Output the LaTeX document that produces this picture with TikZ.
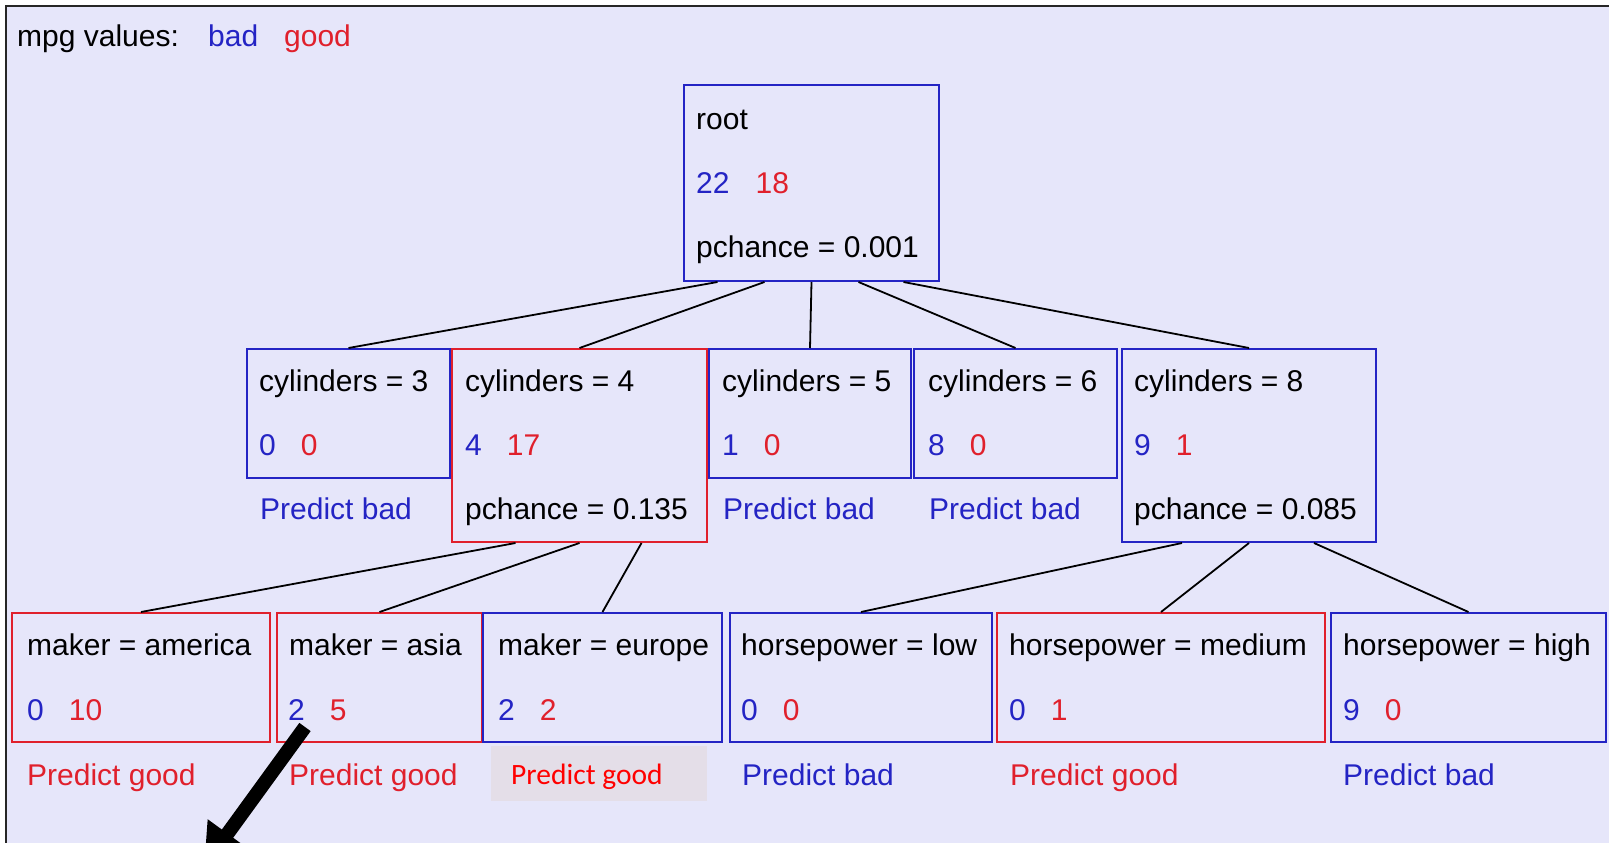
\documentclass[tikz,border=0pt]{standalone}
\usepackage{fontspec}
\setmainfont{Liberation Sans}
\newfontfamily\calib{Carlito}
\usetikzlibrary{fit,arrows.meta}
\definecolor{lav}{RGB}{230,230,250}
\definecolor{bl}{RGB}{36,36,196}
\definecolor{rd}{RGB}{224,32,44}
\definecolor{gbox}{RGB}{228,222,232}
\newcommand{\nums}[2]{\textcolor{bl}{#1}\hspace{25pt}\textcolor{rd}{#2}}
\begin{document}
\begin{tikzpicture}[x=1pt,y=-1pt,
  bbox/.style={draw=bl, line width=2pt, inner sep=0pt},
  rbox/.style={draw=rd, line width=2pt, inner sep=0pt},
  txt/.style={anchor=base west, inner sep=0pt, font=\fontsize{30}{36}\selectfont},
  conn/.style={draw=black, line width=1.8pt}]
\useasboundingbox (0,0) rectangle (1609,843);
\fill[white] (0,0) rectangle (1609,843);
\fill[lav] (6,6) rectangle (1609,843);
\draw[line width=2.5pt, black!85] (6,843) -- (6,6) -- (1609,6);

% legend
\node[txt] (legend) at (17,47) {mpg values:};
\node[txt, text=bl] (legbad) at (208,47) {bad};
\node[txt, text=rd] (leggood) at (284,47) {good};

% root
\node[bbox, fit={(684,85) (939,281)}] (root) {};
\node[txt] (roott1) at (696,129) {root};
\node[txt] (roott2) at (696,193) {\textcolor{bl}{22}\hspace{26pt}\textcolor{rd}{18}};
\node[txt] (roott3) at (696,257) {pchance = 0.001};

% level 2
\node[bbox, fit={(247,349) (450,478)}] (c3) {};
\node[txt] (c3t1) at (259,391) {cylinders = 3};
\node[txt] (c3t2) at (259,455) {\nums{0}{0}};
\node[txt, text=bl] (c3p) at (260,519) {Predict bad};

\node[rbox, fit={(452,349) (707,542)}] (c4) {};
\node[txt] (c4t1) at (465,391) {cylinders = 4};
\node[txt] (c4t2) at (465,455) {\nums{4}{17}};
\node[txt] (c4t3) at (465,519) {pchance = 0.135};

\node[bbox, fit={(709,349) (911,478)}] (c5) {};
\node[txt] (c5t1) at (722,391) {cylinders = 5};
\node[txt] (c5t2) at (722,455) {\nums{1}{0}};
\node[txt, text=bl] (c5p) at (723,519) {Predict bad};

\node[bbox, fit={(914,349) (1117,478)}] (c6) {};
\node[txt] (c6t1) at (928,391) {cylinders = 6};
\node[txt] (c6t2) at (928,455) {\nums{8}{0}};
\node[txt, text=bl] (c6p) at (929,519) {Predict bad};

\node[bbox, fit={(1122,349) (1376,542)}] (c8) {};
\node[txt] (c8t1) at (1134,391) {cylinders = 8};
\node[txt] (c8t2) at (1134,455) {\nums{9}{1}};
\node[txt] (c8t3) at (1134,519) {pchance = 0.085};

% level 3
\node[rbox, fit={(12,613) (270,742)}] (am) {};
\node[txt] (amt1) at (27,655) {maker = america};
\node[txt] (amt2) at (27,720) {\nums{0}{10}};
\node[txt, text=rd] (amp) at (27,785) {Predict good};

\node[rbox, fit={(277,613) (482,742)}] (as) {};
\node[txt] (ast1) at (289,655) {maker = asia};
\node[txt] (ast2) at (288,720) {\nums{2}{5}};
\node[txt, text=rd] (asp) at (289,785) {Predict good};

\node[bbox, fit={(483,613) (722,742)}] (eu) {};
\node[txt] (eut1) at (498,655) {maker = europe};
\node[txt] (eut2) at (498,720) {\nums{2}{2}};
\node[fill=gbox, inner sep=0pt, fit={(491,746) (707,801)}] (eupbg) {};
\node[anchor=base west, inner sep=0pt, text=red, font=\calib\fontsize{29.5}{35}\selectfont] (eup) at (511,784) {Predict good};

\node[bbox, fit={(730,613) (992,742)}] (hl) {};
\node[txt] (hlt1) at (741,655) {horsepower = low};
\node[txt] (hlt2) at (741,720) {\nums{0}{0}};
\node[txt, text=bl] (hlp) at (742,785) {Predict bad};

\node[rbox, fit={(997,613) (1325,742)}] (hm) {};
\node[txt] (hmt1) at (1009,655) {horsepower = medium};
\node[txt] (hmt2) at (1009,720) {\nums{0}{1}};
\node[txt, text=rd] (hmp) at (1010,785) {Predict good};

\node[bbox, fit={(1331,613) (1606,742)}] (hh) {};
\node[txt] (hht1) at (1343,655) {horsepower = high};
\node[txt] (hht2) at (1343,720) {\nums{9}{0}};
\node[txt, text=bl] (hhp) at (1343,785) {Predict bad};

% connectors
\draw[conn] ([xshift=-94pt]root.south) -- (c3.north);
\draw[conn] ([xshift=-47pt]root.south) -- (c4.north);
\draw[conn] (root.south) -- (c5.north);
\draw[conn] ([xshift=47pt]root.south) -- (c6.north);
\draw[conn] ([xshift=92pt]root.south) -- (c8.north);

\draw[conn] ([xshift=-64pt]c4.south) -- (am.north);
\draw[conn] (c4.south) -- (as.north);
\draw[conn] ([xshift=62pt]c4.south) -- (eu.north);

\draw[conn] ([xshift=-67pt]c8.south) -- (hl.north);
\draw[conn] (c8.south) -- (hm.north);
\draw[conn] ([xshift=65pt]c8.south) -- (hh.north);

% big arrow
\begin{scope}
\clip (0,0) rectangle (1609,843);
\coordinate (arrs) at (305,727);
\coordinate (arre) at (204,866);
\draw[line width=14pt, black, -{Triangle[length=40pt,width=46pt]}] (arrs) -- (arre);
\end{scope}
\end{tikzpicture}
\end{document}
